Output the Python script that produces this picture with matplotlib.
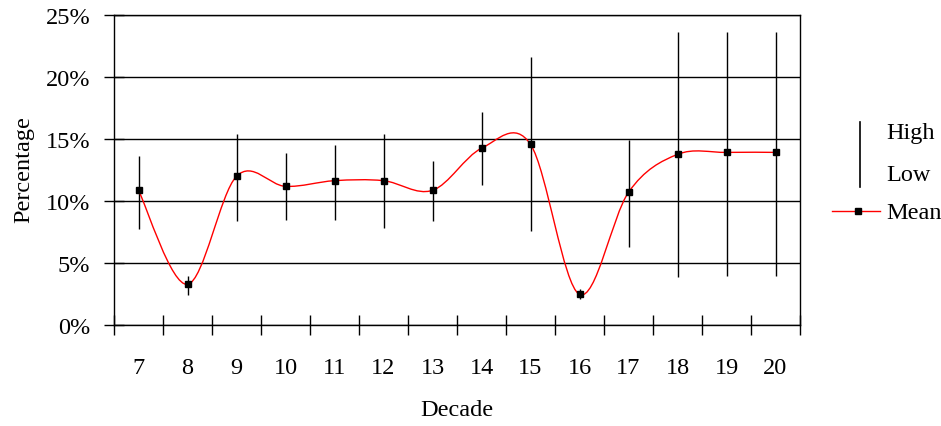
import matplotlib
matplotlib.use("Agg")
import matplotlib.pyplot as plt
from matplotlib.path import Path
from matplotlib.patches import PathPatch
from matplotlib.lines import Line2D

decades = ["7", "8", "9", "10", "11", "12", "13", "14", "15", "16", "17", "18", "19", "20"]
high = [13.65, 3.98, 15.4, 13.85, 14.5, 15.4, 13.2, 17.2, 21.6, 2.9, 14.95, 23.65, 23.65, 23.65]
low = [7.75, 2.42, 8.36, 8.5, 8.5, 7.85, 8.36, 11.3, 7.56, 2.1, 6.27, 3.85, 3.98, 3.98]
mean = [10.86, 3.28, 11.99, 11.18, 11.64, 11.64, 10.86, 14.25, 14.57, 2.47, 10.7, 13.76, 13.92, 13.92]
yticks = [0, 5, 10, 15, 20, 25]
ytick_labels = ["0%", "5%", "10%", "15%", "20%", "25%"]

W, H = 941, 427
fig = plt.figure(figsize=(W / 100, H / 100), dpi=100)
plt.rcParams["font.family"] = ["Liberation Serif", "DejaVu Serif"]
ax = fig.add_axes([114 / W, 1 - 326 / H, (800 - 114) / W, (326 - 16) / H])

FS = 17.5

x = list(range(len(decades)))
n = len(x)

# gridlines
for t in yticks:
    ax.axhline(t, color="black", lw=1.0, zorder=1)

# high-low lines
ax.vlines(x, low, high, color="black", lw=1.0, zorder=2)

# smoothed mean line (cubic Bezier, Catmull-Rom style control points)
verts = [(x[0], mean[0])]
codes = [Path.MOVETO]
for i in range(n - 1):
    im1 = i - 1 if i > 0 else i
    ip2 = i + 2 if i + 2 < n else i + 1
    c1 = (x[i] + (x[i + 1] - x[im1]) / 6, mean[i] + (mean[i + 1] - mean[im1]) / 6)
    c2 = (x[i + 1] - (x[ip2] - x[i]) / 6, mean[i + 1] - (mean[ip2] - mean[i]) / 6)
    verts += [c1, c2, (x[i + 1], mean[i + 1])]
    codes += [Path.CURVE4] * 3
ax.add_patch(PathPatch(Path(verts, codes), facecolor="none", edgecolor="red", lw=1.0, zorder=3))

# mean markers
ax.plot(x, mean, ls="none", marker="s", ms=4.2, color="black", zorder=4)

ax.set_xlim(-0.5, n - 0.5)
ax.set_ylim(0, 25)
ax.set_yticks(yticks)
ax.set_yticklabels(ytick_labels, fontsize=FS)
ax.set_xticks(x)
ax.set_xticklabels(decades, fontsize=FS)
ax.set_xticks([i - 0.5 for i in range(n + 1)], minor=True)
ax.tick_params(axis="x", which="major", length=0, pad=23)
ax.tick_params(axis="x", which="minor", direction="inout", length=15, width=1.0)
ax.tick_params(axis="y", direction="inout", length=15, width=1.0, pad=9.5)
for s in ax.spines.values():
    s.set_linewidth(1.0)
    s.set_color("black")

fig.text(24 / W, 1 - 170 / H, "Percentage", rotation=90, ha="center", va="center", fontsize=FS)
fig.text(457 / W, 1 - 411 / H, "Decade", ha="center", va="center", fontsize=FS)

# legend (manual)
fig.add_artist(Line2D([860 / W, 860 / W], [1 - 123 / H, 1 - 188 / H], color="black", lw=1.2))
fig.text(886 / W, 1 - 133 / H, "High", ha="left", va="center", fontsize=FS)
fig.text(886 / W, 1 - 176 / H, "Low", ha="left", va="center", fontsize=FS)
fig.add_artist(Line2D([832 / W, 880 / W], [1 - 212 / H, 1 - 212 / H], color="red", lw=1.0))
fig.add_artist(Line2D([858 / W], [1 - 212 / H], ls="none", marker="s", ms=4.2, color="black"))
fig.text(886 / W, 1 - 214 / H, "Mean", ha="left", va="center", fontsize=FS)

fig.savefig("out.png", dpi=100)
